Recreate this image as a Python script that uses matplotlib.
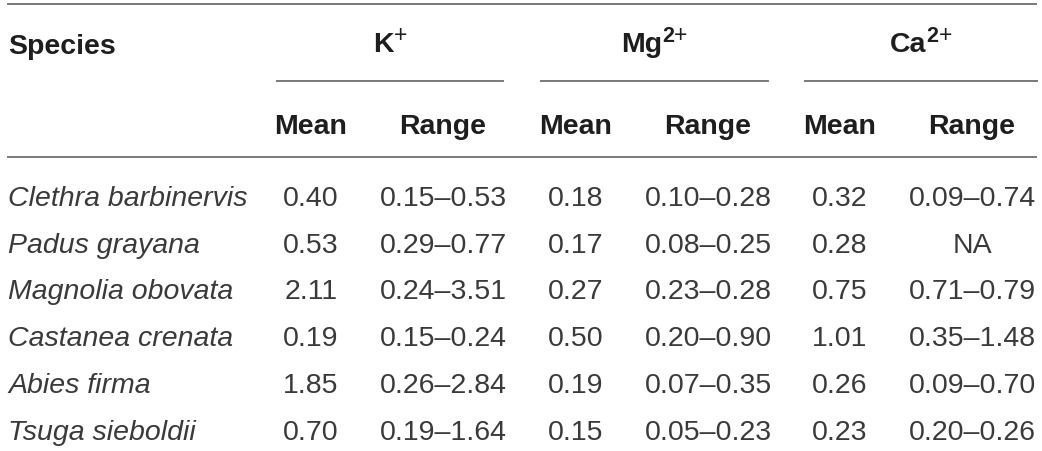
import matplotlib
matplotlib.use("Agg")
import matplotlib.pyplot as plt

# ---- data ----
species = ["Clethra barbinervis", "Padus grayana", "Magnolia obovata",
           "Castanea crenata", "Abies firma", "Tsuga sieboldii"]
ion_base = ["K", "Mg", "Ca"]
ion_charge = ["", "2", "2"]
ion_sign = ["+", "+", "+"]
sub_headers = ["Mean", "Range"]
k_mean = [0.40, 0.53, 2.11, 0.19, 1.85, 0.70]
k_low = [0.15, 0.29, 0.24, 0.15, 0.26, 0.19]
k_high = [0.53, 0.77, 3.51, 0.24, 2.84, 1.64]
mg_mean = [0.18, 0.17, 0.27, 0.50, 0.19, 0.15]
mg_low = [0.10, 0.08, 0.23, 0.20, 0.07, 0.05]
mg_high = [0.28, 0.25, 0.28, 0.90, 0.35, 0.23]
ca_mean = [0.32, 0.28, 0.75, 1.01, 0.26, 0.23]
ca_low = [0.09, None, 0.71, 0.35, 0.09, 0.20]
ca_high = [0.74, None, 0.79, 1.48, 0.70, 0.26]

plt.rcParams["font.family"] = ["Liberation Sans", "DejaVu Sans"]

W, H = 1042, 452
fig = plt.figure(figsize=(W / 100, H / 100), dpi=100)
ax = fig.add_axes([0, 0, 1, 1])
ax.set_xlim(0, W)
ax.set_ylim(H, 0)
ax.axis("off")
renderer = fig.canvas.get_renderer()

FS = 20.5
FS_SUP = 15.5
head_col = "#1e1e1e"
body_col = "#3a3a3a"
line_col = "#7a7a7a"

# layout
x_left = 8
x_right = 1036
group_centers = [390, 654, 921]
group_spans = [(277, 503), (541, 768), (805, 1037)]
col_centers = [311, 443, 576, 708, 840, 972]
y_top, y_mid, y_head = 5, 82, 158
y_h1, y_ion, y_h2 = 53.5, 52, 134
sup_raise = 10.5
row_y0, row_dy = 205.7, 46.9

# rules
ax.plot([x_left, x_right], [y_top, y_top], color=line_col, lw=1.4)
ax.plot([x_left, x_right], [y_head, y_head], color=line_col, lw=1.4)
for (a, b) in group_spans:
    ax.plot([a, b], [y_mid, y_mid], color=line_col, lw=1.4)

# headers
ax.text(x_left, y_h1, "Species", fontsize=FS, fontweight="bold", color=head_col,
        ha="left", va="baseline")
for base, chg, sgn, xc in zip(ion_base, ion_charge, ion_sign, group_centers):
    tb = ax.text(0, y_ion, base, fontsize=FS, fontweight="bold", color=head_col,
                 ha="left", va="baseline")
    parts = [tb]
    if chg:
        parts.append(ax.text(0, y_ion - sup_raise, chg, fontsize=FS_SUP,
                             fontweight="bold", color=head_col, ha="left",
                             va="baseline"))
    parts.append(ax.text(0, y_ion - sup_raise, sgn, fontsize=FS_SUP + 1,
                         color=head_col, ha="left", va="baseline"))
    widths = [p.get_window_extent(renderer).width for p in parts]
    x = xc - sum(widths) / 2
    for p, w in zip(parts, widths):
        p.set_x(x)
        x += w
for i, xc in enumerate(col_centers):
    ax.text(xc, y_h2, sub_headers[i % 2], fontsize=FS, fontweight="bold",
            color=head_col, ha="center", va="baseline")

def rng(lo, hi):
    if lo is None:
        return "NA"
    return f"{lo:.2f}\u2013{hi:.2f}"

cols = [
    [f"{v:.2f}" for v in k_mean],
    [rng(a, b) for a, b in zip(k_low, k_high)],
    [f"{v:.2f}" for v in mg_mean],
    [rng(a, b) for a, b in zip(mg_low, mg_high)],
    [f"{v:.2f}" for v in ca_mean],
    [rng(a, b) for a, b in zip(ca_low, ca_high)],
]

for r, sp in enumerate(species):
    y = row_y0 + r * row_dy
    ax.text(x_left, y, sp, fontsize=FS, fontstyle="italic", color=body_col,
            ha="left", va="baseline")
    for c, xc in enumerate(col_centers):
        ax.text(xc, y, cols[c][r], fontsize=FS, color=body_col,
                ha="center", va="baseline")

fig.savefig("out.png", dpi=100, facecolor="white")
